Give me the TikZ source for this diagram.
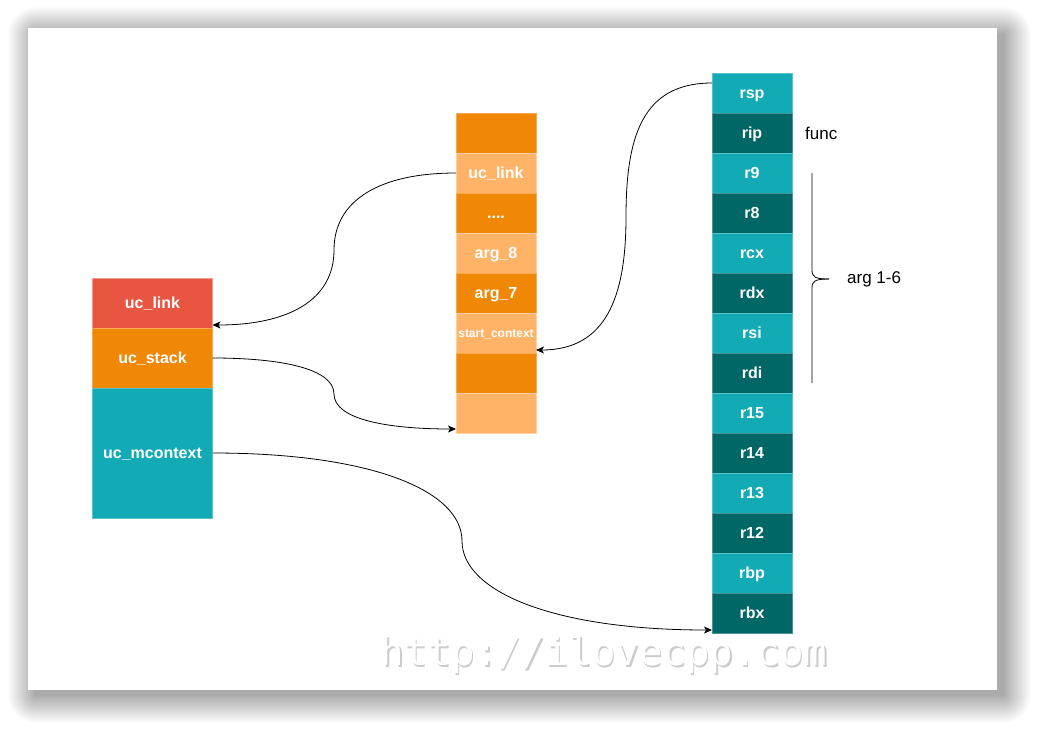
\documentclass[tikz,border=0pt]{standalone}
\usepackage{fontspec}
\setmainfont{Liberation Sans}
\newfontfamily\wmfont{DejaVu Sans Mono}
\usetikzlibrary{positioning,calc,arrows.meta}
\definecolor{linkred}{HTML}{E85642}
\definecolor{stkorange}{HTML}{F08705}
\definecolor{lightorange}{HTML}{FFB366}
\definecolor{tealA}{HTML}{12AAB5}
\definecolor{tealB}{HTML}{006666}
\begin{document}
\begin{tikzpicture}[x=1pt,y=-1pt]
	\tikzset{
	cell/.style={rectangle,minimum width=80pt,minimum height=40pt,inner sep=0pt,outer sep=0pt,text=white,text height=15pt,text depth=3.4pt,font=\bfseries\fontsize{16}{18}\selectfont},
	lcell/.style={cell,minimum width=120pt},
	dorange/.style={cell,fill=stkorange,draw=stkorange!70!white},
	lorange/.style={cell,fill=lightorange,draw=lightorange!60!white},
	lteal/.style={cell,fill=tealA,draw=tealA!70!white},
	dteal/.style={cell,fill=tealB,draw=tealB!70!white},
	lbl/.style={font=\fontsize{17}{20}\selectfont,inner sep=0pt,anchor=west},
	wmark/.style={font=\wmfont\fontsize{39}{40}\selectfont,inner sep=0pt},
	ptr/.style={draw,-{Stealth[length=8pt,width=7pt,inset=2pt]},line width=.8pt}
}

\useasboundingbox (0,0) rectangle (1040,734);
\fill[white] (0,0) rectangle (1040,734);
\foreach \i in {1,...,28}
	\fill[black,opacity=.013,rounded corners=\i pt] (36-\i,35-\i) rectangle (1003+\i,695+\i);
\fill[white] (28,28) rectangle (997,690);

\node[lcell,fill=linkred,draw=linkred!60!white,minimum height=50pt] (link) at (152.5,303) {uc\_link};
\node[lcell,fill=stkorange,draw=stkorange!70!white,minimum height=60pt,below=0pt of link] (stk) {uc\_stack};
\node[lcell,fill=tealA,draw=tealA!70!white,minimum height=130pt,below=0pt of stk] (mctx) {uc\_mcontext};

\node[dorange] (m1) at (496,133) {};
\node[lorange,below=0pt of m1] (muclink) {uc\_link};
\node[dorange,below=0pt of muclink] (mdots) {....};
\node[lorange,below=0pt of mdots] (marg8) {arg\_8};
\node[dorange,below=0pt of marg8] (marg7) {arg\_7};
\node[lorange,below=0pt of marg7,font=\bfseries\fontsize{12}{14}\selectfont,text height=11pt,text depth=2.5pt] (mstart) {start\_context};
\node[dorange,below=0pt of mstart] (m7) {};
\node[lorange,below=0pt of m7] (m8) {};

\node[lteal] (rsp) at (752,93) {rsp};
\node[dteal,below=0pt of rsp] (rip) {rip};
\node[lteal,below=0pt of rip] (r9) {r9};
\node[dteal,below=0pt of r9] (r8) {r8};
\node[lteal,below=0pt of r8] (rcx) {rcx};
\node[dteal,below=0pt of rcx] (rdx) {rdx};
\node[lteal,below=0pt of rdx] (rsi) {rsi};
\node[dteal,below=0pt of rsi] (rdi) {rdi};
\node[lteal,below=0pt of rdi] (r15) {r15};
\node[dteal,below=0pt of r15] (r14) {r14};
\node[lteal,below=0pt of r14] (r13) {r13};
\node[dteal,below=0pt of r13] (r12) {r12};
\node[lteal,below=0pt of r12] (rbp) {rbp};
\node[dteal,below=0pt of rbp] (rbx) {rbx};

\node[lbl] (func) at (805,133) {func};
\node[lbl] (args) at (847,279) {arg 1-6};
\draw[line width=.8pt] (812,173) -- (812,270) .. controls (812,277) and (815,279) .. (829,279);
\draw[line width=.8pt] (812,383) -- (812,288) .. controls (812,281) and (815,279) .. (829,279);

\coordinate (c1) at (334,250);
\coordinate (c2) at (334,394);
\coordinate (c3) at (462,541);
\coordinate (c4) at (626,217);
\draw[ptr] (muclink.west) .. controls +(-76,0) and +(0,-50) .. (c1) .. controls +(0,50) and +(76,0) .. ($(link.south east)+(0,-3)$);
\draw[ptr] (stk.east) .. controls +(70,0) and +(0,-25) .. (c2) .. controls +(0,25) and +(-70,0) .. ($(m8.south west)+(0,-4)$);
\draw[ptr] (mctx.east) .. controls +(160,0) and +(0,-50) .. (c3) .. controls +(0,50) and +(-160,0) .. ($(rbx.south west)+(0,-3)$);
\draw[ptr] ($(rsp.west)+(0,-10)$) .. controls +(-70,0) and +(0,-80) .. (c4) .. controls +(0,80) and +(70,0) .. ($(mstart.south east)+(0,-3)$);

\node[wmark,text=gray!40] (wms) at (605.5,656.5) {http://ilovecpp.com};
\node[wmark,text=white] (wm) at (604,655) {http://ilovecpp.com};
\end{tikzpicture}
\end{document}
